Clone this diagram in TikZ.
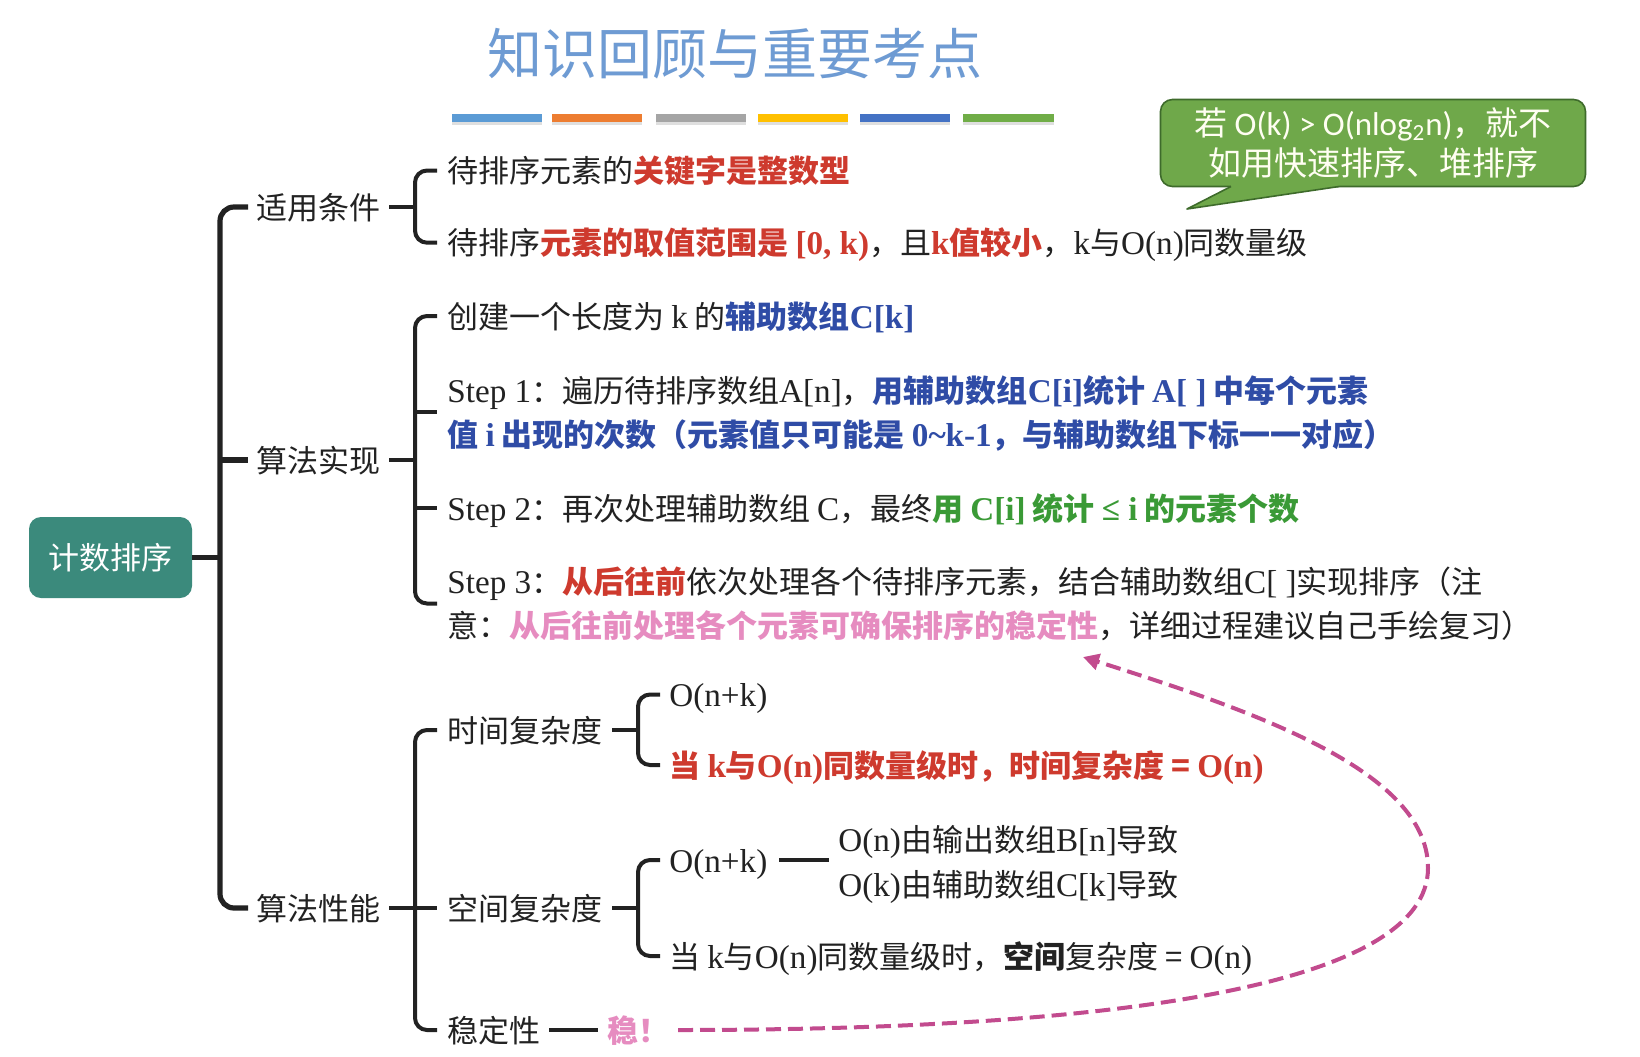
\documentclass[tikz,border=0pt]{standalone}
\usepackage{fontspec}
\setmainfont{Noto Sans CJK SC}
\newfontfamily\lat[Scale=1.07]{Liberation Serif}
\newfontfamily\calf{Carlito}
\usetikzlibrary{arrows.meta,shadows}
\definecolor{ink}{HTML}{222222}
\definecolor{tred}{HTML}{CE3A2E}
\definecolor{tblue}{HTML}{2F4CA6}
\definecolor{tgreen}{HTML}{3A9A36}
\definecolor{tpink}{HTML}{E68CC0}
\definecolor{tmag}{HTML}{C24B8E}
\definecolor{rootteal}{HTML}{3B8A7C}
\definecolor{titleblue}{HTML}{6E9BD3}
\definecolor{cgreen}{HTML}{6FA84A}
\definecolor{cborder}{HTML}{3E6B2B}
\definecolor{barA}{HTML}{5B9BD5}
\definecolor{barB}{HTML}{ED7D31}
\definecolor{barC}{HTML}{A5A5A5}
\definecolor{barD}{HTML}{FFC000}
\definecolor{barE}{HTML}{4472C4}
\definecolor{barF}{HTML}{70AD47}
\newcommand\ltn[1]{{\lat #1}}
\newcommand\Rd[1]{{\color{tred}\bfseries #1}}
\newcommand\Bl[1]{{\color{tblue}\bfseries #1}}
\newcommand\Gr[1]{{\color{tgreen}\bfseries #1}}
\newcommand\Pk[1]{{\color{tpink}\bfseries #1}}
\begin{document}
\begin{tikzpicture}[x=0.5pt,y=-0.5pt,
  txt/.style={anchor=base west, inner sep=0pt, font=\fontsize{15.5}{20}\selectfont, text=ink},
  trunk/.style={line width=2.6pt, draw=ink, rounded corners=7pt},
  brk/.style={line width=2pt, draw=ink, rounded corners=6pt},
  straight/.style={rounded corners=0pt},
  rootbox/.style={fill=rootteal, rounded corners=6pt, minimum width=81.5pt, minimum height=40.5pt, text=white, font=\fontsize{15.5}{20}\selectfont, inner sep=0pt},
  callbox/.style={fill=cgreen, draw=cborder, line width=0.8pt, rounded corners=6pt, minimum width=212.5pt, minimum height=43.5pt, text=white!95!yellow, font=\fontsize{16.5}{20}\selectfont, align=center, inner sep=0pt},
  bar/.style={drop shadow={opacity=0.25, shadow xshift=0pt, shadow yshift=-1.5pt}},
  dasharrow/.style={draw=tmag, line width=2pt, dash pattern=on 7.5pt off 3.5pt, -{Triangle[length=8pt,width=8pt]}},
]
\useasboundingbox (0,0) rectangle (1640,1056);
\fill[white] (0,0) rectangle (1640,1056);

% title and bars
\node[font=\fontsize{27.5}{30}\selectfont, text=titleblue, inner sep=0pt] (title) at (735,54) {知识回顾与重要考点};
\path[bar, fill=barA] (452,114) rectangle (542,122);
\path[bar, fill=barB] (552,114) rectangle (642,122);
\path[bar, fill=barC] (656,114) rectangle (746,122);
\path[bar, fill=barD] (758,114) rectangle (848,122);
\path[bar, fill=barE] (860,114) rectangle (950,122);
\path[bar, fill=barF] (963,114) rectangle (1054,122);

% callout
\node[callbox] (note) at (1373,143) {若 {\calf O(k) > O(nlog\textsubscript{2}n)}，就不\\如用快速排序、堆排序};
\coordinate (tailA) at (1231,186.5);
\coordinate (tailB) at (1339,186.5);
\coordinate (tailtip) at (1187,209);
\fill[cgreen] ([yshift=2pt]tailA) -- ([yshift=2pt]tailB) -- (tailB) -- (tailtip) -- (tailA) -- cycle;
\draw[cborder, line width=0.8pt, line join=round] (tailA) -- (tailtip) -- (tailB);

% root
\node[rootbox] (root) at (110.5,557.5) {计数排序};

% level 1
\node[txt] (cond) at (256,219) {适用条件};
\node[txt] (impl) at (256,472) {算法实现};
\node[txt] (perf) at (256,920) {算法性能};

\coordinate (t1) at (248,207);
\coordinate (t2) at (248,460);
\coordinate (t3) at (248,908);
\coordinate (tx) at (220,557.5);
\draw[trunk] (t1) -- (t1 -| tx) -- (t3 -| tx) -- (t3);
\draw[trunk, straight] (t2 -| tx) -- (t2);
\draw[trunk, straight] (root.east) -- (tx);

% conditions
\node[txt] (c1) at (447,182.5) {待排序元素的\Rd{关键字是整数型}};
\node[txt] (c2) at (447,254.7) {待排序\Rd{元素的取值范围是 \ltn{[0, k)}}，且\Rd{\ltn{k}值较小}，\ltn{k}与\ltn{O(n)}同数量级};
\draw[brk, straight] (389,207) -- (415,207);
\draw[brk] (437,170.5) -- (415,170.5) -- (415,242.7) -- (437,242.7);

% implementation
\node[txt] (i1) at (447,328) {创建一个长度为 \ltn{k} 的\Bl{辅助数组\ltn{C[k]}}};
\node[txt] (i2a) at (447,402) {\ltn{Step 1}：遍历待排序数组\ltn{A[n]}，\Bl{用辅助数组\ltn{C[i]}统计 \ltn{A[ ]} 中每个元素}};
\node[txt] (i2b) at (447,446) {\Bl{值 \ltn{i} 出现的次数（元素值只可能是 \ltn{0\char"7E k-1}，与辅助数组下标一一对应）}};
\node[txt] (i3) at (447,520) {\ltn{Step 2}：再次处理辅助数组 \ltn{C}，最终\Gr{用 \ltn{C[i]} 统计 \ltn{≤ i} 的元素个数}};
\node[txt] (i4a) at (447,593.5) {\ltn{Step 3}：\Rd{从后往前}依次处理各个待排序元素，结合辅助数组\ltn{C[ ]}实现排序（注};
\node[txt] (i4b) at (447,637.5) {意：\Pk{从后往前处理各个元素可确保排序的稳定性}，详细过程建议自己手绘复习）};
\draw[brk, straight] (389,460) -- (415,460);
\draw[brk] (437,316) -- (415,316) -- (415,603.5) -- (437,603.5);
\draw[brk, straight] (415,412) -- (437,412);
\draw[brk, straight] (415,508) -- (437,508);

% performance
\node[txt] (time) at (447,742) {时间复杂度};
\node[txt] (space) at (447,920) {空间复杂度};
\node[txt] (stab) at (447,1042) {稳定性};
\draw[brk, straight] (389,908) -- (437,908);
\draw[brk] (437,730) -- (415,730) -- (415,1030) -- (437,1030);

\node[txt] (tm1) at (669,706.5) {\ltn{O(n+k)}};
\node[txt] (tm2) at (669,777) {\Rd{当 \ltn{k}与\ltn{O(n)}同数量级时，时间复杂度 = \ltn{O(n)}}};
\draw[brk, straight] (612,730) -- (638,730);
\draw[brk] (660,694.5) -- (638,694.5) -- (638,765) -- (660,765);

\node[txt] (sp1) at (669,872) {\ltn{O(n+k)}};
\node[txt] (sp1a) at (838,851) {\ltn{O(n)}由输出数组\ltn{B[n]}导致};
\node[txt] (sp1b) at (838,896) {\ltn{O(k)}由辅助数组\ltn{C[k]}导致};
\node[txt] (sp2) at (669,968) {当 \ltn{k}与\ltn{O(n)}同数量级时，\textbf{空间}复杂度 = \ltn{O(n)}};
\draw[brk, straight] (612,908) -- (638,908);
\draw[brk] (660,860) -- (638,860) -- (638,956) -- (660,956);
\draw[brk, straight] (779,860) -- (829,860);

\node[txt] (wen) at (607,1042) {\Pk{稳！}};
\draw[brk, straight] (549,1030) -- (598,1030);

% dashed arrow
\coordinate (arrstart) at (678,1030);
\coordinate (arrend) at (1083,657);
\draw[dasharrow] (arrstart) .. controls (1120,1030) and (1428,985) .. (1428,868) .. controls (1428,770) and (1250,710) .. (arrend);
\end{tikzpicture}
\end{document}
